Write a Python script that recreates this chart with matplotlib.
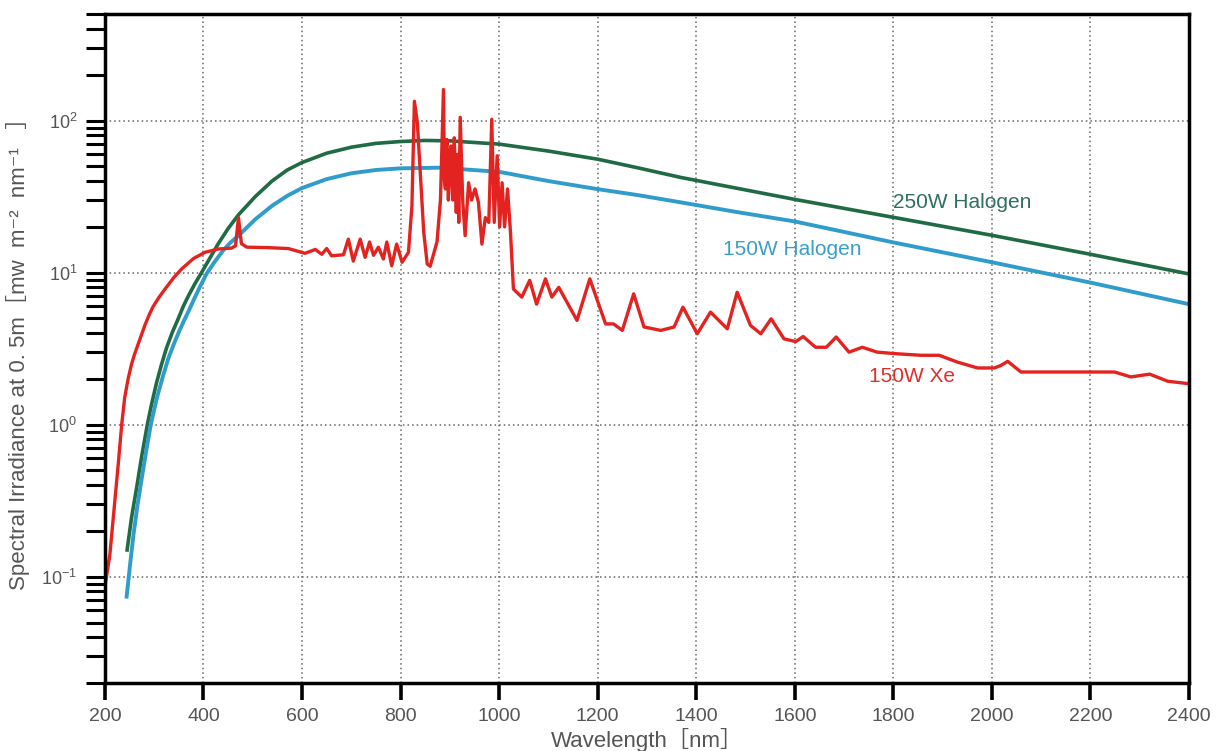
"""
Spectral irradiance of a 150W Xe arc lamp vs 150W / 250W halogen lamps
log y axis, values read off the reference picture
"""
import matplotlib
matplotlib.use("Agg")
import matplotlib.pyplot as plt
from matplotlib.ticker import LogLocator, NullFormatter, MultipleLocator

plt.rcParams['font.family'] = ['Liberation Sans', 'DejaVu Sans', 'Noto Sans CJK SC']
plt.rcParams['mathtext.fontset'] = 'custom'
plt.rcParams['mathtext.rm'] = 'Liberation Sans'

# 250W halogen (green)
halo250_wl = [245, 254, 264, 275, 286, 295, 305, 315, 325, 337, 349, 359, 370, 383, 396,
              412, 430, 450, 471, 505, 539, 570, 600, 650, 700, 750, 800, 850, 900,
              1000, 1100, 1200, 1280, 1368, 1480, 1600, 1800, 2000, 2200, 2400]
halo250_val = [0.15, 0.245, 0.38, 0.63, 1.0, 1.38, 1.9, 2.5, 3.2, 4.07, 5.0, 6.0, 7.1, 8.5, 10,
               12.3, 15.5, 19.5, 24, 31.6, 40, 47.3, 53, 61, 66.8, 70.8, 72.8, 74, 73.5,
               70, 63, 55.7, 49, 42.3, 36, 30.3, 23.1, 17.6, 13.2, 9.8]

# 150W halogen (blue)
halo150_wl = [244, 251, 258, 266, 275, 284, 293, 305, 318, 329, 340, 350, 360, 370, 380,
              393, 406, 422, 440, 455, 471, 505, 539, 570, 600, 650, 700, 750, 800, 880,
              1000, 1100, 1200, 1280, 1368, 1480, 1600, 1800, 2000, 2200, 2400]
halo150_val = [0.074, 0.12, 0.19, 0.295, 0.45, 0.68, 1.0, 1.48, 2.1, 2.75, 3.4, 4.07, 4.8, 5.6, 6.6,
               8.1, 9.8, 11.7, 14, 15.8, 17.5, 22.4, 27.5, 32, 36, 41.2, 45, 47.3, 48.5, 49,
               46, 40, 35.4, 32.4, 29, 25.1, 21.7, 15.8, 11.7, 8.6, 6.2]

# 150W Xe (red)
xe_wl = [200, 210, 220, 227, 234, 240, 247, 254, 260, 271, 281, 290, 298, 310, 322, 340, 356,
         380, 403, 430, 457, 465, 471, 477, 488, 530, 572, 606, 627, 640, 650, 660, 684, 694,
         704, 718, 728, 737, 745, 755, 765, 772, 782, 792, 803, 816, 823, 828, 834,
         840, 847, 854, 860, 874, 881, 887, 889, 891, 892, 894, 897, 899, 902, 904, 906,
         909, 911, 913, 916, 918, 921, 926, 931, 938, 944, 951, 958, 965, 972, 979, 985,
         990, 996, 1001, 1006, 1011, 1017, 1023, 1029, 1046, 1062, 1076, 1094, 1107, 1121,
         1158, 1184, 1216, 1232, 1250, 1273, 1294, 1328, 1355, 1373, 1402, 1429, 1463, 1483,
         1510, 1531, 1552, 1578, 1602, 1617, 1642, 1664, 1684, 1710, 1737, 1767, 1805, 1856,
         1893, 1930, 1971, 2005, 2018, 2032, 2059, 2249, 2282, 2320, 2357, 2400]
xe_val = [0.086, 0.14, 0.31, 0.55, 1.0, 1.5, 2.0, 2.5, 2.9, 3.66, 4.5, 5.3, 6.0, 6.9, 7.8, 9.3, 10.6,
          12.4, 13.6, 14.3, 14.5, 15.0, 23, 15.5, 14.7, 14.6, 14.4, 13.4, 14.2, 13.2, 14.4, 12.9, 13.1, 16.6,
          11.9, 16.6, 12.6, 15.9, 13.0, 14.7, 12.3, 15.9, 11.1, 15.4, 11.7, 13.6, 27.5, 134, 97,
          45.6, 18.4, 11.4, 11.0, 16.0, 30.5, 160, 40, 35.5, 60, 75, 30, 55, 68, 40, 30,
          77, 45, 24.9, 60, 21.4, 105, 30, 17.5, 39, 30, 35.5, 29, 15.4, 23, 21.4, 102,
          21.4, 58.6, 20, 39, 20, 35.5, 18.4, 7.8, 6.9, 8.9, 6.2, 9.1, 6.9, 8.0,
          4.85, 9.1, 4.6, 4.6, 4.17, 7.25, 4.39, 4.17, 4.39, 5.93, 3.96, 5.5, 4.27, 7.43,
          4.5, 3.96, 4.97, 3.67, 3.52, 3.8, 3.23, 3.23, 3.77, 3.0, 3.23, 3.0, 2.93, 2.86,
          2.86, 2.58, 2.36, 2.36, 2.45, 2.61, 2.22, 2.22, 2.06, 2.15, 1.93, 1.86]

# colours
red = '#e3231f'
blue = '#2f9ccc'
green = '#1f6b45'
grey = '#555555'

fig = plt.figure(figsize=(12.16, 7.51), dpi=100)
ax = fig.add_axes([0.0863, 0.0905, 0.8915, 0.8905])

ax.plot(halo250_wl, halo250_val, color=green, lw=2.6)
ax.plot(halo150_wl, halo150_val, color=blue, lw=2.8)
ax.plot(xe_wl, xe_val, color=red, lw=2.4)

ax.set_yscale('log')
ax.set_xlim(200, 2400)
ax.set_ylim(0.02, 500)
ax.xaxis.set_major_locator(MultipleLocator(200))
ax.yaxis.set_major_locator(LogLocator(base=10))
ax.yaxis.set_minor_locator(LogLocator(base=10, subs=range(2, 10)))
ax.yaxis.set_minor_formatter(NullFormatter())

# dotted grid on majors only
ax.grid(True, which='major', linestyle=(0, (1, 2)), color='#666666', lw=1.1)

for sp in ax.spines.values():
    sp.set_linewidth(2.5)
    sp.set_color('black')

ax.tick_params(axis='y', which='both', direction='out', length=14, width=2.2,
               labelsize=13, labelcolor=grey, pad=6)
ax.tick_params(axis='x', which='major', direction='out', length=12, width=2.6,
               labelsize=14, labelcolor=grey, pad=6)

ax.set_xlabel('Wavelength［nm］', fontsize=16, color=grey, labelpad=2)
ax.set_ylabel('Spectral Irradiance at 0. 5m［mw  m⁻²  nm⁻¹   ］',
              fontsize=16, color=grey, labelpad=8)

# curve names
ax.text(1799, 29, '250W Halogen', color='#2f6e60', fontsize=15, va='center', ha='left')
ax.text(1455, 14.2, '150W Halogen', color='#3a9fc8', fontsize=15, va='center', ha='left')
ax.text(1750, 2.06, '150W Xe', color='#e0302a', fontsize=15, va='center', ha='left')

fig.savefig('out.png', dpi=100)
